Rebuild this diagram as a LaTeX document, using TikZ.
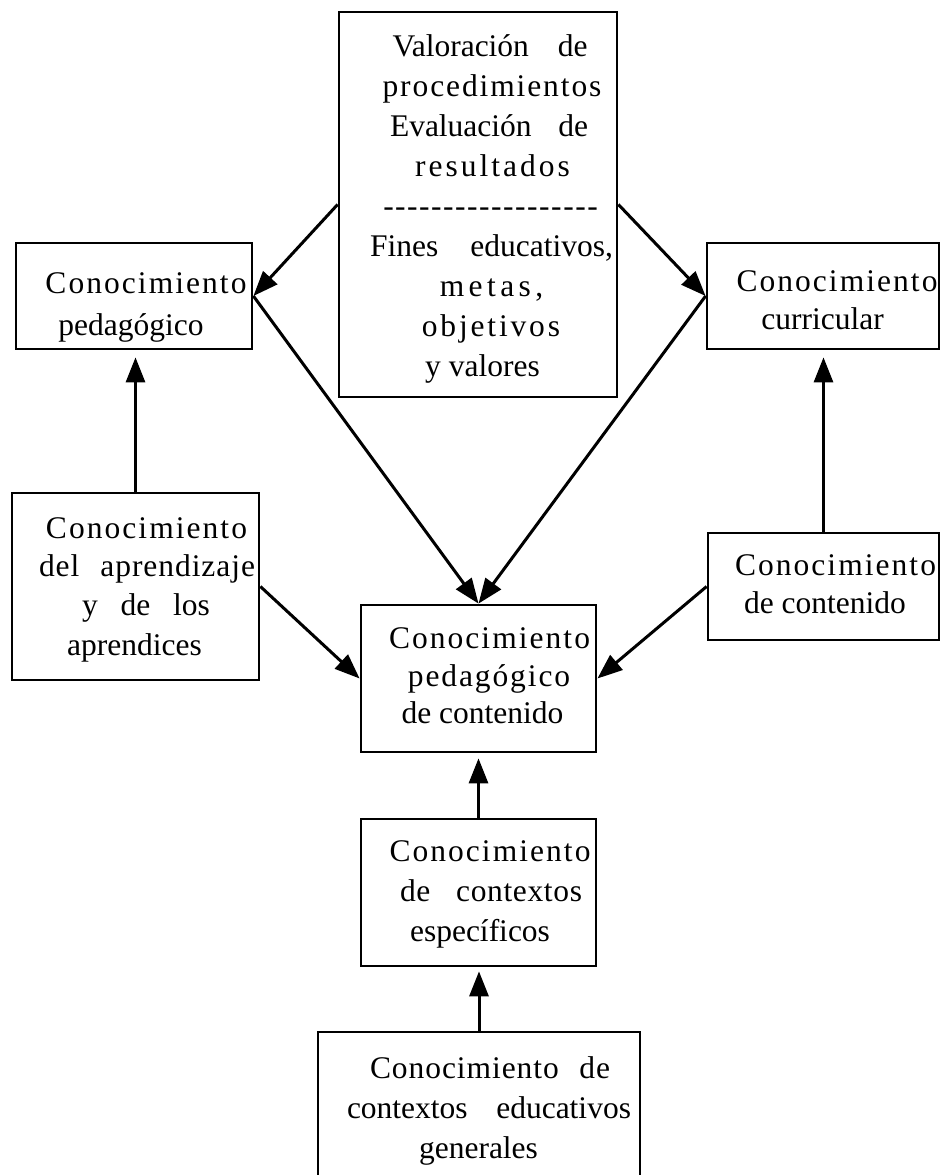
\documentclass[tikz,border=0pt]{standalone}
\usepackage{fontspec}
\setmainfont{Liberation Serif}
\usetikzlibrary{arrows.meta,calc}
\newcommand{\fs}{\fontsize{31.5}{40}\selectfont}
\newcommand{\lsp}[2]{{\addfontfeature{LetterSpace=#1}#2}}
\newcommand{\jw}[2]{\makebox[#1pt][s]{#2}}
\newcommand{\dsh}{\hbox to 12pt{\hss-\hss}}
\begin{document}
\begin{tikzpicture}[x=1pt,y=-1pt,
  box/.style={draw, line width=2.8pt, inner sep=0pt},
  ln/.style={anchor=base, inner sep=0pt, font=\fs},
  arr/.style={line width=3pt, -{Triangle[length=25pt,width=19pt]}}]
\clip (0,0) rectangle (942,1175);
\fill[white] (0,0) rectangle (942,1175);
% boxes
\node[box, minimum width=278pt, minimum height=385pt] (top) at (478,204.5) {};
\node[box, minimum width=236pt, minimum height=106pt] (ped) at (134,296) {};
\node[box, minimum width=232pt, minimum height=106pt] (cur) at (823,296) {};
\node[box, minimum width=247pt, minimum height=187pt] (apr) at (135.5,586.5) {};
\node[box, minimum width=231pt, minimum height=107pt] (con) at (823.5,586.5) {};
\node[box, minimum width=235pt, minimum height=147pt] (pck) at (478.5,678.5) {};
\node[box, minimum width=235pt, minimum height=147pt] (esp) at (478.5,892.5) {};
\node[box, minimum width=322pt, minimum height=158pt] (gen) at (479,1111) {};
% texts: top
\node[ln] (t1) at (490,56) {\jw{195}{Valoración de}};
\node[ln] (t2) at (492,96) {\lsp{6}{procedimientos}};
\node[ln] (t3) at (489,136) {\jw{198}{Evaluación de}};
\node[ln] (t4) at (492.5,176) {\lsp{9.5}{resultados}};
\node[ln] (t5) at (490.5,216) {\dsh\dsh\dsh\dsh\dsh\dsh\dsh\dsh\dsh\dsh\dsh\dsh\dsh\dsh\dsh\dsh\dsh\dsh};
\node[ln] (t6) at (491.5,256) {\jw{243}{Fines educativos,}};
\node[ln] (t7) at (491.5,296) {\lsp{14}{metas,}};
\node[ln] (t8) at (491,336) {\lsp{9}{objetivos}};
\node[ln] (t9) at (482.5,376) {y valores};
% ped
\node[ln] (p1) at (146,293) {\lsp{6.5}{Conocimiento}};
\node[ln] (p2) at (131,335) {pedagógico};
% cur
\node[ln] (c1) at (837,291) {\lsp{6.5}{Conocimiento}};
\node[ln] (c2) at (822.5,329) {curricular};
% apr
\node[ln] (a1) at (146.5,538) {\lsp{6.5}{Conocimiento}};
\node[ln] (a2) at (147,576) {\jw{216}{\addfontfeature{LetterSpace=3}del aprendizaje}};
\node[ln] (a3) at (146,615) {\jw{128}{y de los}};
\node[ln] (a4) at (134.5,655) {aprendices};
% con
\node[ln] (n1) at (835.5,575) {\lsp{6.5}{Conocimiento}};
\node[ln] (n2) at (825,613) {de contenido};
% pck
\node[ln] (k1) at (489.5,648) {\lsp{6.5}{Conocimiento}};
\node[ln] (k2) at (489,686) {\lsp{6}{pedagógico}};
\node[ln] (k3) at (482.5,723) {de contenido};
% esp
\node[ln] (e1) at (490,861) {\lsp{6.5}{Conocimiento}};
\node[ln] (e2) at (491,901) {\jw{182}{\addfontfeature{LetterSpace=2}de contextos}};
\node[ln] (e3) at (480,941) {específicos};
% gen
\node[ln] (g1) at (490,1078) {\jw{240}{\addfontfeature{LetterSpace=3}Conocimiento de}};
\node[ln] (g2) at (489,1118) {\jw{284}{contextos educativos}};
\node[ln] (g3) at (478.5,1158) {generales};
% arrows
\draw[arr] (top.west) -- (ped.east);
\draw[arr] (top.east) -- (cur.west);
\draw[arr] (ped.east) -- (pck.north);
\draw[arr] (cur.west) -- (pck.north);
\draw[arr, shorten >=7pt] (apr.north) -- (apr.north |- ped.south);
\draw[arr, shorten >=7pt] (con.north) -- (con.north |- cur.south);
\draw[arr] (apr.east) -- (pck.west);
\draw[arr] (con.west) -- (pck.east);
\draw[arr, shorten >=5pt] (esp.north) -- (esp.north |- pck.south);
\draw[arr, shorten >=4pt] (gen.north) -- (gen.north |- esp.south);
\end{tikzpicture}
\end{document}
